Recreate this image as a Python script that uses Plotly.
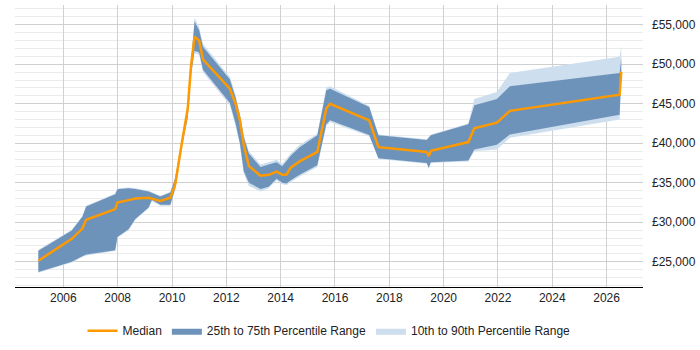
import plotly.graph_objects as go

years = [2005.08, 2006.0, 2006.31, 2006.7, 2006.84, 2007.91, 2007.99, 2008.4, 2008.65,
         2009.14, 2009.26, 2009.57, 2009.94, 2010.12, 2010.37, 2010.58, 2010.7, 2010.83,
         2011.0, 2011.14, 2012.13, 2012.34, 2012.5, 2012.64, 2012.83, 2013.26, 2013.56,
         2013.85, 2014.06, 2014.22, 2014.37, 2014.7, 2015.35, 2015.68, 2015.82, 2017.26,
         2017.6, 2019.38, 2019.45, 2019.53, 2020.91, 2021.13, 2021.96, 2022.44, 2026.48,
         2026.54]

median = [25130, 27200, 27900, 29200, 30300, 31660, 32500, 32800, 33000,
          33090, 33000, 32700, 33100, 34800, 40200, 44400, 49800, 53500,
          53000, 50600, 46900, 45000, 42900, 39800, 37100, 35900, 36000,
          36400, 36000, 36050, 36900, 37700, 38900, 44400, 45000, 42900,
          39500, 38900, 38350, 39050, 40150, 41900, 42600, 44100, 46150,
          49050]

p75 = [26400, 28300, 28960, 30700, 32000, 33540, 34160, 34290, 34200,
       33900, 33700, 33250, 33750, 35600, 40500, 44500, 50000, 55400,
       54300, 52200, 48100, 45800, 43500, 40800, 38700, 37000, 37300,
       37600, 37100, 37800, 38400, 39500, 41000, 46700, 46900, 44600,
       41000, 40400, 40700, 41000, 42400, 44800, 45600, 47200, 48900,
       50800]

p90 = [26500, 28400, 29050, 30800, 32100, 33640, 34260, 34390, 34300,
       34000, 33800, 33350, 33850, 35800, 40800, 44800, 50400, 55900,
       54700, 52600, 48400, 46100, 43800, 41100, 39000, 37300, 37600,
       37900, 37400, 38100, 38700, 39800, 41200, 47100, 47200, 44700,
       41100, 40500, 40800, 41100, 42500, 45600, 46500, 48900, 50950,
       52300]

p25 = [23700, 24600, 25000, 25700, 25900, 26460, 28125, 29100, 30400,
       31875, 32800, 32200, 32200, 34300, 39700, 43300, 48700, 51700,
       51500, 49300, 45100, 42500, 40000, 36500, 35000, 34200, 34500,
       35500, 35000, 34900, 35300, 36000, 37200, 42400, 42900, 41040,
       38100, 37500, 36900, 37600, 37800, 39200, 39800, 41100, 43600,
       48600]

p10 = [23600, 24500, 24900, 25600, 25800, 26360, 28025, 29000, 30300,
       31775, 32700, 32100, 32100, 34100, 39400, 43000, 48300, 51400,
       51200, 49000, 44800, 42200, 39700, 36200, 34600, 33900, 34300,
       35300, 34800, 34700, 35100, 35800, 37000, 42200, 42700, 40900,
       38000, 37400, 36700, 37500, 37700, 39000, 39200, 40700, 43000,
       48000]

x_ticks = list(range(2006, 2027, 2))
y_ticks = list(range(25000, 55001, 5000))

LIGHT = "rgb(205,222,238)"
DARK = "rgb(110,147,186)"
ORANGE = "rgb(255,153,0)"

fig = go.Figure()
fig.add_trace(go.Scatter(x=years, y=p90, mode="lines", line=dict(width=0, color=LIGHT),
                         showlegend=False, hoverinfo="skip"))
fig.add_trace(go.Scatter(x=years, y=p10, mode="lines", line=dict(width=0, color=LIGHT),
                         fill="tonexty", fillcolor=LIGHT, name="10th to 90th Percentile Range",
                         legendrank=3))
fig.add_trace(go.Scatter(x=years, y=p75, mode="lines", line=dict(width=0, color=DARK),
                         showlegend=False, hoverinfo="skip"))
fig.add_trace(go.Scatter(x=years, y=p25, mode="lines", line=dict(width=0, color=DARK),
                         fill="tonexty", fillcolor=DARK, name="25th to 75th Percentile Range",
                         legendrank=2))
fig.add_trace(go.Scatter(x=years, y=median, mode="lines", line=dict(width=2.5, color=ORANGE),
                         name="Median", legendrank=1))

fig.update_layout(
    width=700, height=350,
    margin=dict(l=15, r=57, t=5, b=58),
    paper_bgcolor="white", plot_bgcolor="white",
    font=dict(family="Liberation Sans, Arial, sans-serif", size=12, color="#222"),
    showlegend=True,
    legend=dict(orientation="h", x=0.5, xanchor="center", y=-0.155, yanchor="middle",
                font=dict(size=12, color="#222"), itemwidth=30, traceorder="normal"),
    xaxis=dict(range=[2004.22, 2027.34], tickvals=x_ticks, ticktext=[str(v) for v in x_ticks],
               showgrid=True, gridcolor="#d0d0d0", gridwidth=1, zeroline=False,
               showline=True, linecolor="black", linewidth=1, ticks="",
               tickfont=dict(size=12, color="#222")),
    yaxis=dict(range=[21800, 57500], side="right", tickvals=y_ticks,
               ticktext=["£{:,}".format(v) for v in y_ticks],
               showgrid=True, gridcolor="#cfcfcf", gridwidth=1, zeroline=False,
               showline=False, ticks="", ticklabelstandoff=8,
               tickfont=dict(size=12, color="#222"),
               minor=dict(dtick=1000, tick0=0, showgrid=True, gridcolor="#ebebeb", gridwidth=1)),
)

fig.write_html("out.html")
